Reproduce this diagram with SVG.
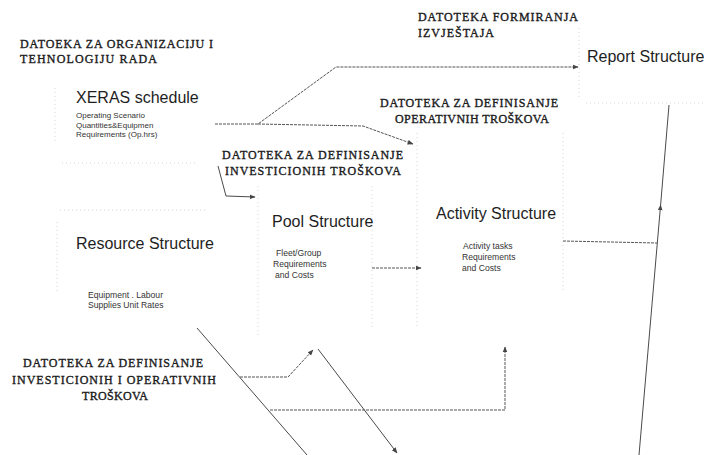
<svg xmlns="http://www.w3.org/2000/svg" width="704" height="455" viewBox="0 0 704 455">
<defs>
<marker id="ah" viewBox="0 0 10 10" refX="9" refY="5" markerWidth="6" markerHeight="6" orient="auto" markerUnits="userSpaceOnUse">
<path d="M0,1 L10,5 L0,9 Z" fill="#444"/>
</marker>
<style>
.lbl{font-family:"Liberation Serif","Times New Roman",serif;font-size:12px;fill:#1a1a1a;stroke:#1a1a1a;stroke-width:0.35px;}
.title{font-family:"Liberation Sans",Arial,sans-serif;font-size:16px;fill:#1e1e1e;}
.sub{font-family:"Liberation Sans",Arial,sans-serif;font-size:8px;fill:#333;}
.sub9{font-family:"Liberation Sans",Arial,sans-serif;font-size:8.6px;fill:#333;}
.edge{fill:none;stroke:#d6d6d6;stroke-width:1;stroke-dasharray:1 3;}
.con{fill:none;stroke:#4a4a4a;stroke-width:1;}
.dot{fill:none;stroke:#555;stroke-width:1;stroke-dasharray:3 1;}
</style>
</defs>
<rect width="704" height="455" fill="#fff"/>

<g id="labels">
<text class="lbl" x="20" y="48" textLength="193" lengthAdjust="spacing">DATOEKA ZA ORGANIZACIJU I</text>
<text class="lbl" x="20" y="63" textLength="137" lengthAdjust="spacing">TEHNOLOGIJU RADA</text>
<text class="lbl" x="418" y="21" textLength="160" lengthAdjust="spacing">DATOTEKA FORMIRANJA</text>
<text class="lbl" x="418" y="37" textLength="76" lengthAdjust="spacing">IZVJEŠTAJA</text>
<text class="lbl" x="380" y="107" textLength="178" lengthAdjust="spacing">DATOTEKA ZA DEFINISANJE</text>
<text class="lbl" x="395" y="123" textLength="154" lengthAdjust="spacing">OPERATIVNIH TROŠKOVA</text>
<text class="lbl" x="222" y="159" textLength="181" lengthAdjust="spacing">DATOTEKA ZA DEFINISANJE</text>
<text class="lbl" x="225" y="175" textLength="176" lengthAdjust="spacing">INVESTICIONIH TROŠKOVA</text>
<text class="lbl" x="23" y="367" textLength="180" lengthAdjust="spacing">DATOTEKA ZA DEFINISANJE</text>
<text class="lbl" x="12" y="384" textLength="204" lengthAdjust="spacing">INVESTICIONIH I OPERATIVNIH</text>
<text class="lbl" x="82" y="400" textLength="66" lengthAdjust="spacing">TROŠKOVA</text>
</g>

<g id="xeras">
<path class="edge" d="M55,88 V142 M62,163 H196"/>
<text class="title" x="76" y="103">XERAS schedule</text>
<text class="sub" x="76" y="118">Operating Scenario</text>
<text class="sub" x="76" y="127.5">Quantities&amp;Equipmen</text>
<text class="sub" x="76" y="137">Requirements (Op.hrs)</text>
</g>

<g id="resource">
<path class="edge" d="M60,210 H205 M57,222 V292"/>
<text class="title" x="76" y="249">Resource Structure</text>
<text class="sub9" x="88" y="298">Equipment . Labour</text>
<text class="sub9" x="88" y="308">Supplies Unit Rates</text>
</g>

<g id="pool">
<path class="edge" d="M258,186 V335 M372,186 V330"/>
<text class="title" x="272" y="227">Pool Structure</text>
<text class="sub9" x="276" y="256">Fleet/Group</text>
<text class="sub9" x="273" y="267">Requirements</text>
<text class="sub9" x="275" y="278">and Costs</text>
</g>

<g id="activity">
<path class="edge" d="M417,133 V328 M563,133 V290"/>
<text class="title" x="436" y="219">Activity Structure</text>
<text class="sub9" x="463" y="249">Activity tasks</text>
<text class="sub9" x="462" y="260">Requirements</text>
<text class="sub9" x="462" y="271">and Costs</text>
</g>

<g id="report">
<path class="edge" d="M579,28 V100 M586,103 H704"/>
<text class="title" x="587" y="62">Report Structure</text>
</g>

<g id="connectors">
<path class="dot" d="M215,124 L258,124 L336,67 L578,67" marker-end="url(#ah)"/>
<path class="dot" d="M258,124 L363,126 L413,144" marker-end="url(#ah)"/>
<path class="con" d="M218,166 L226,196 L255,197" marker-end="url(#ah)"/>
<path class="dot" d="M372,268 L421,268" marker-end="url(#ah)"/>
<path class="dot" d="M563,241 L657,243"/>
<path class="con" d="M639,455 L660.6,205" marker-end="url(#ah)"/>
<path class="con" d="M660.6,205 L669,105"/>
<path class="con" d="M197,328 L307,455"/>
<path class="dot" d="M240,377 L288,377 L313,350" marker-end="url(#ah)"/>
<path class="con" d="M318,349 L397,453" marker-end="url(#ah)"/>
<path class="dot" d="M270,410 L505,410 L505,347" marker-end="url(#ah)"/>
</g>
</svg>
